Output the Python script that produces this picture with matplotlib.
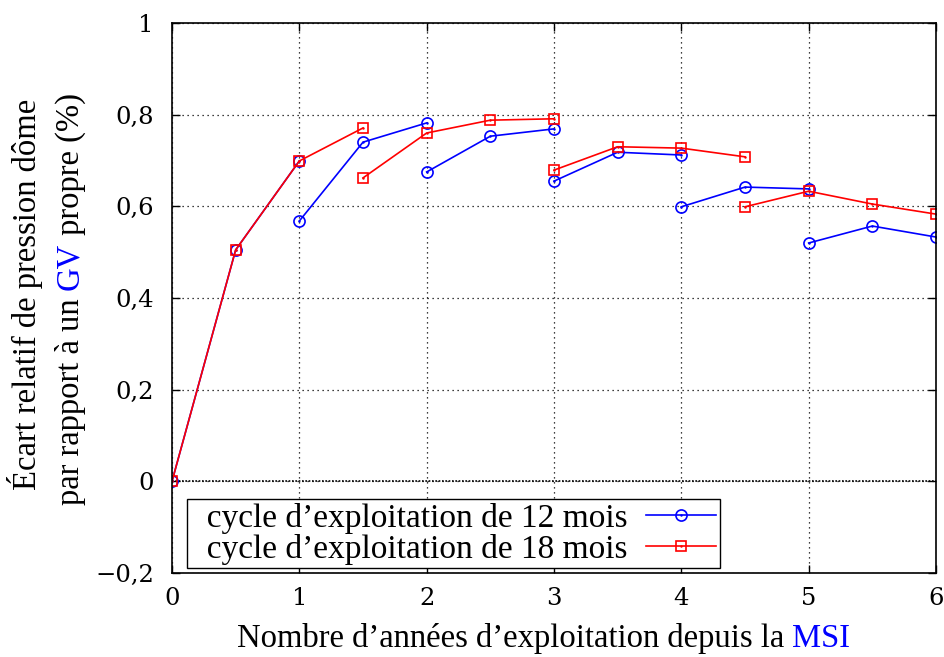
import numpy as np
import matplotlib
matplotlib.use("Agg")
import matplotlib.pyplot as plt

nan = np.nan

# years of operation; NaN breaks the curve at each refuelling
years_12 = [0, 0.5, 1, nan, 1, 1.5, 2, nan, 2, 2.5, 3, nan, 3, 3.5, 4, nan,
            4, 4.5, 5, nan, 5, 5.5, 6]
gap_12 = [0, 0.505, 0.699, nan, 0.568, 0.740, 0.782, nan, 0.675, 0.753, 0.769, nan,
          0.655, 0.718, 0.712, nan, 0.599, 0.642, 0.638, nan, 0.520, 0.557, 0.533]

years_18 = [0, 0.5, 1, 1.5, nan, 1.5, 2, 2.5, 3, nan, 3, 3.5, 4, 4.5, nan,
            4.5, 5, 5.5, 6]
gap_18 = [0, 0.505, 0.699, 0.771, nan, 0.662, 0.760, 0.788, 0.791, nan,
          0.679, 0.730, 0.727, 0.708, nan, 0.599, 0.633, 0.605, 0.583]

labels = ["cycle d\u2019exploitation de 12 mois", "cycle d\u2019exploitation de 18 mois"]
x_ticks = [0, 1, 2, 3, 4, 5, 6]
y_ticks = [-0.2, 0, 0.2, 0.4, 0.6, 0.8, 1.0]

FONT = "Liberation Serif"
TICK_FONT = "DejaVu Serif"
plt.rcParams["font.family"] = FONT

BLUE = "#0000ff"
RED = "#ff0000"


def colored_pieces(fig, x, y, pieces, size, rotation=0):
    """Write consecutive text pieces of different colours, starting at (x, y)."""
    txt = fig.text(x, y, pieces[0][0], color=pieces[0][1], fontsize=size,
                   rotation=rotation, ha="left", va="baseline" if rotation == 0 else "bottom")
    for s, c in pieces[1:]:
        if rotation == 0:
            txt = fig.add_artist(plt.Annotation(s, xy=(1, 0), xycoords=txt, color=c,
                                                fontsize=size, va="bottom", ha="left"))
        else:
            txt = fig.add_artist(plt.Annotation(s, xy=(0, 1), xycoords=txt, color=c,
                                                fontsize=size, va="bottom", ha="left",
                                                rotation=90))
    return txt


def fmt(v):
    s = f"{v:g}".replace(".", ",")
    return s.replace("-", "\u2212")


fig = plt.figure(figsize=(9.44, 6.57), dpi=100)
ax = fig.add_axes([172 / 944, 84 / 657, 764 / 944, 550 / 657])

l12, = ax.plot(years_12, gap_12, color=BLUE, lw=1.2, marker="o", ms=8,
               mfc="none", mec=BLUE, mew=1.2)
d12, = ax.plot(years_12, gap_12, ls="none", marker=".", ms=1.5, color=BLUE)
l18, = ax.plot(years_18, gap_18, color=RED, lw=1.2, marker="s", ms=7.8,
               mfc="none", mec=RED, mew=1.2)
d18, = ax.plot(years_18, gap_18, ls="none", marker=".", ms=1.5, color=RED)

ax.set_xlim(0, 6)
ax.set_ylim(-0.2, 1.0)
ax.set_xticks(x_ticks)
ax.set_yticks(y_ticks)
ax.set_xticklabels([fmt(v) for v in x_ticks], family=TICK_FONT)
ax.set_yticklabels([fmt(v) for v in y_ticks], family=TICK_FONT)
ax.tick_params(direction="in", length=6, width=1, top=True, right=True,
               labelsize=17.5)
ax.tick_params(axis="y", pad=13)
ax.tick_params(axis="x", pad=10)
for sp in ax.spines.values():
    sp.set_linewidth(1.2)

ax.grid(True, color="black", lw=0.9, ls=(0, (1, 3)))
ax.axhline(0, color="black", lw=1.2, ls=(0, (1, 1)), zorder=1)

# en space in front of each entry gives the wider left margin of the box
leg = ax.legend([(l12, d12), (l18, d18)], ["\u2002" + s for s in labels],
                loc="lower left", bbox_to_anchor=(15 / 764, 5 / 550), borderaxespad=0,
                markerfirst=False, fontsize=24,
                handlelength=2.1, handletextpad=0.55, labelspacing=0.0,
                borderpad=0.1, fancybox=False, framealpha=1)
leg.get_frame().set_edgecolor("black")
leg.get_frame().set_linewidth(1.0)

# axis titles with the acronyms in blue
colored_pieces(fig, 237 / 944, 10 / 657,
               [("Nombre d\u2019années d\u2019exploitation depuis la ", "black"),
                ("MSI", BLUE)], 23.5)
fig.text(25 / 944, 0.5 + 34 / 657, "Écart relatif de pression dôme", fontsize=23.5,
         rotation=90, ha="center", va="center")
colored_pieces(fig, 55 / 944, 152 / 657,
               [("par rapport à un ", "black"), ("GV", BLUE), (" propre (%)", "black")],
               23.5, rotation=90)

fig.savefig("out.png", dpi=100)
